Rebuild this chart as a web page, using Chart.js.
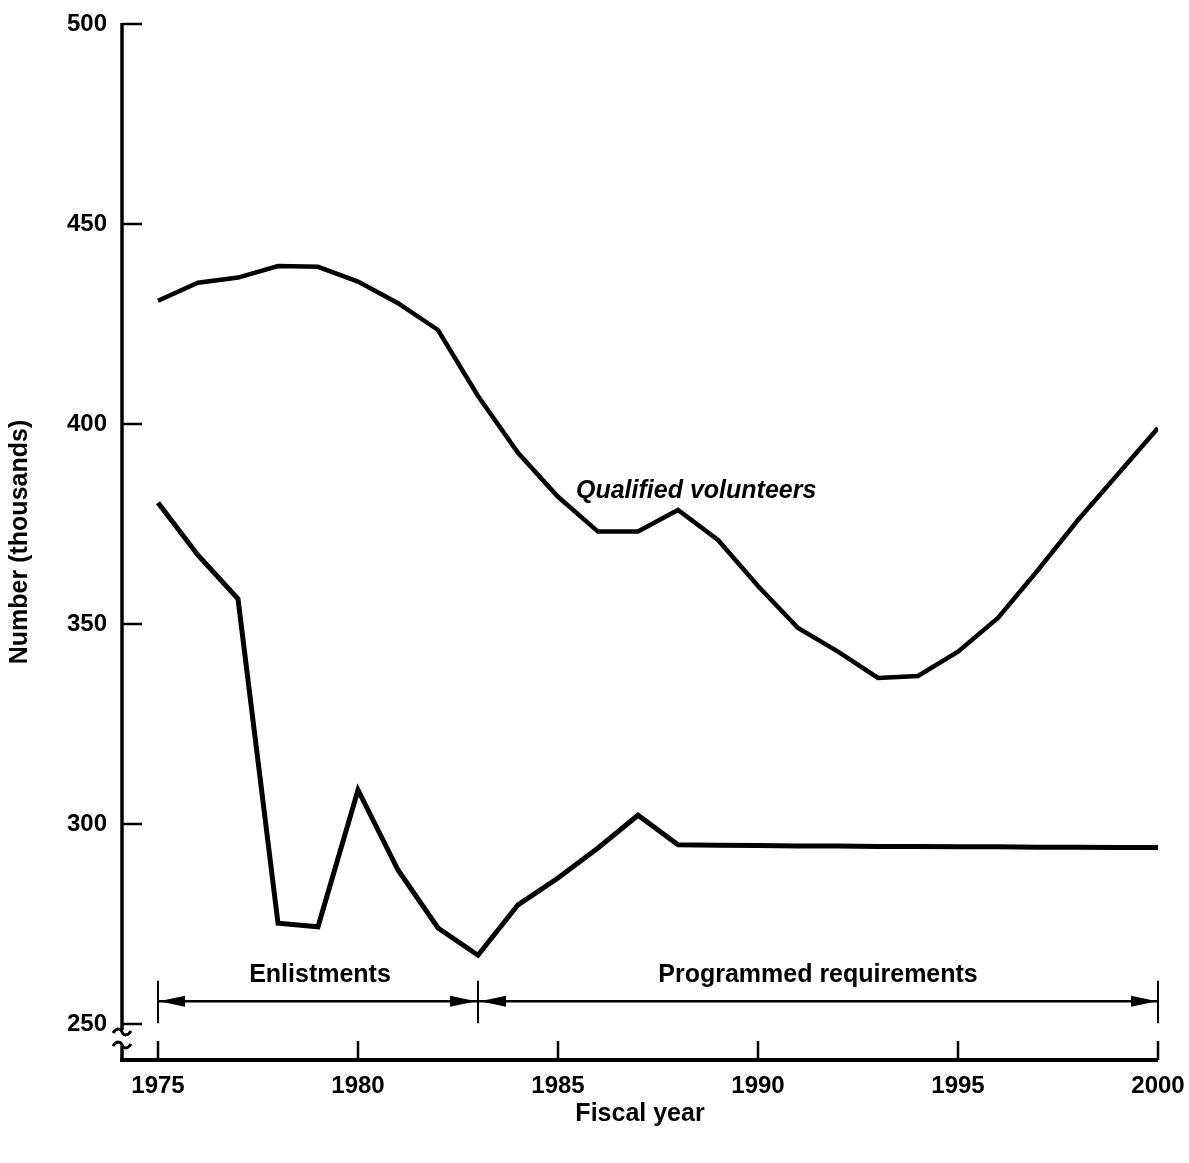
<!DOCTYPE html>
<html>
<head>
<meta charset="utf-8">
<script src="https://cdn.jsdelivr.net/npm/chart.js@4.4.1/dist/chart.umd.min.js"></script>
<style>
  html, body { margin: 0; padding: 0; background: #fff; }
  #chart { display: block; }
</style>
</head>
<body>
<canvas id="chart" width="1189" height="1163"></canvas>
<script>
// valores (milhares)
const years = [1975, 1976, 1977, 1978, 1979, 1980, 1981, 1982, 1983, 1984, 1985, 1986, 1987,
               1988, 1989, 1990, 1991, 1992, 1993, 1994, 1995, 1996, 1997, 1998, 1999, 2000];
const qualified = [430.8, 435.3, 436.6, 439.5, 439.3, 435.6, 430.2, 423.5, 407, 392.8, 381.8, 373.1, 373.1,
                   378.5, 371, 359.5, 349, 343.1, 336.5, 337, 343.1, 351.5, 363.5, 376, 387.5, 399];
const enlistments = [380.3, 367.2, 356.3, 275.2, 274.3, 308.5, 288.5, 274, 267.2, 279.8, 286.5, 294, 302.2,
                     294.8, 294.7, 294.6, 294.5, 294.5, 294.4, 294.4, 294.3, 294.3, 294.2, 294.2, 294.1, 294.1];
const xTicks = [1975, 1980, 1985, 1990, 1995, 2000];
const yTicks = [250, 300, 350, 400, 450, 500];
const splitYear = 1983;

const fonte = 'Liberation Sans, Arial, sans-serif';
const fontTick = { family: fonte, size: 24, weight: 'bold' };
const fontTitle = { family: fonte, size: 25, weight: 'bold' };

function pares(arr) {
    return years.map(function(y, i) { return { x: y, y: arr[i] }; });
}

// eixos, marcas internas, quebra do eixo, setas e rótulos
const desenhos = {
    id: 'desenhos',
    afterDraw: function(chart) {
        const ctx = chart.ctx;
        const xs = chart.scales.x, ys = chart.scales.y;
        const left = chart.chartArea.left, bottom = chart.chartArea.bottom, top = chart.chartArea.top;
        ctx.save();
        ctx.strokeStyle = '#000';
        ctx.fillStyle = '#000';
        ctx.lineCap = 'butt';

        // eixo y com quebra
        ctx.lineWidth = 3.5;
        ctx.beginPath();
        ctx.moveTo(left, top - 1);
        ctx.lineTo(left, bottom - 30);
        ctx.stroke();
        ctx.beginPath();
        ctx.moveTo(left, bottom - 14);
        ctx.lineTo(left, bottom);
        ctx.stroke();
        ctx.lineWidth = 3;
        [bottom - 28, bottom - 15].forEach(function(cy) {
            ctx.beginPath();
            ctx.moveTo(left - 9, cy + 1);
            ctx.bezierCurveTo(left - 5, cy - 5, left - 1, cy - 3, left, cy);
            ctx.bezierCurveTo(left + 1, cy + 3, left + 5, cy + 5, left + 9, cy - 1);
            ctx.stroke();
        });

        // eixo x
        ctx.lineWidth = 4;
        ctx.beginPath();
        ctx.moveTo(left - 2, bottom);
        ctx.lineTo(xs.getPixelForValue(2000), bottom);
        ctx.stroke();

        // marcas
        ctx.lineWidth = 2.5;
        yTicks.forEach(function(v) {
            const py = ys.getPixelForValue(v);
            ctx.beginPath();
            ctx.moveTo(left, py);
            ctx.lineTo(left + 20, py);
            ctx.stroke();
        });
        xTicks.forEach(function(v) {
            const px = xs.getPixelForValue(v);
            ctx.beginPath();
            ctx.moveTo(px, bottom);
            ctx.lineTo(px, bottom - 19);
            ctx.stroke();
        });

        // setas
        const ay = ys.getPixelForValue(255.7);
        const x0 = xs.getPixelForValue(1975), x1 = xs.getPixelForValue(splitYear), x2 = xs.getPixelForValue(2000);
        ctx.lineWidth = 2.5;
        ctx.beginPath();
        ctx.moveTo(x0, ay);
        ctx.lineTo(x2, ay);
        ctx.stroke();
        ctx.lineWidth = 2;
        [x0, x1, x2].forEach(function(px) {
            ctx.beginPath();
            ctx.moveTo(px, ys.getPixelForValue(260.8));
            ctx.lineTo(px, ys.getPixelForValue(250.2));
            ctx.stroke();
        });
        function ponta(tip, dir) {
            ctx.beginPath();
            ctx.moveTo(tip, ay);
            ctx.lineTo(tip + dir * 26, ay - 5.5);
            ctx.lineTo(tip + dir * 26, ay + 5.5);
            ctx.closePath();
            ctx.fill();
        }
        ponta(x0 + 1, 1);
        ponta(x1 - 2, -1);
        ponta(x1 + 2, 1);
        ponta(x2 - 1, -1);

        // textos
        ctx.font = 'bold 25px ' + fonte;
        ctx.textBaseline = 'middle';
        ctx.textAlign = 'center';
        ctx.fillText('Enlistments', xs.getPixelForValue(1979.05), ys.getPixelForValue(262.3));
        ctx.fillText('Programmed requirements', xs.getPixelForValue(1991.5), ys.getPixelForValue(262.3));
        ctx.font = 'italic bold 25px ' + fonte;
        ctx.textAlign = 'left';
        ctx.fillText('Qualified volunteers', xs.getPixelForValue(1985.45), ys.getPixelForValue(383.3));
        ctx.restore();
    }
};

const ctx = document.getElementById('chart').getContext('2d');
const chart = new Chart(ctx, {
    type: 'line',
    data: {
        datasets: [
            {
                label: 'Qualified volunteers',
                data: pares(qualified),
                borderColor: '#000',
                borderWidth: 4.5,
                pointRadius: 0,
                tension: 0,
                fill: false
            },
            {
                label: 'Enlistments',
                data: pares(enlistments),
                borderColor: '#000',
                borderWidth: 5,
                pointRadius: 0,
                tension: 0,
                fill: false
            }
        ]
    },
    options: {
        responsive: false,
        devicePixelRatio: 1,
        animation: false,
        layout: { padding: { top: 24, right: 31, left: 0, bottom: 0 } },
        plugins: {
            legend: { display: false },
            tooltip: { enabled: false }
        },
        scales: {
            x: {
                type: 'linear',
                min: 1974.1,
                max: 2000,
                grid: { display: false },
                border: { display: false },
                afterFit: function(s) { s.height = 103; s.paddingLeft = 0; s.paddingRight = 0; },
                afterBuildTicks: function(s) { s.ticks = xTicks.map(function(v) { return { value: v }; }); },
                ticks: {
                    color: '#000',
                    font: fontTick,
                    padding: 4,
                    maxRotation: 0,
                    callback: function(v) { return String(v); }
                },
                title: {
                    display: true,
                    text: 'Fiscal year',
                    color: '#000',
                    font: fontTitle,
                    padding: { top: 0, bottom: 34 }
                }
            },
            y: {
                min: 241,
                max: 500,
                grid: { display: false },
                border: { display: false },
                afterFit: function(s) { s.width = 122; s.paddingTop = 0; s.paddingBottom = 0; },
                afterBuildTicks: function(s) { s.ticks = yTicks.map(function(v) { return { value: v }; }); },
                ticks: {
                    color: '#000',
                    font: fontTick,
                    padding: 7,
                    callback: function(v) { return String(v); }
                },
                title: {
                    display: true,
                    text: 'Number (thousands)',
                    color: '#000',
                    font: fontTitle,
                    padding: { top: 5, bottom: 0 }
                }
            }
        }
    },
    plugins: [desenhos]
});
</script>
</body>
</html>
